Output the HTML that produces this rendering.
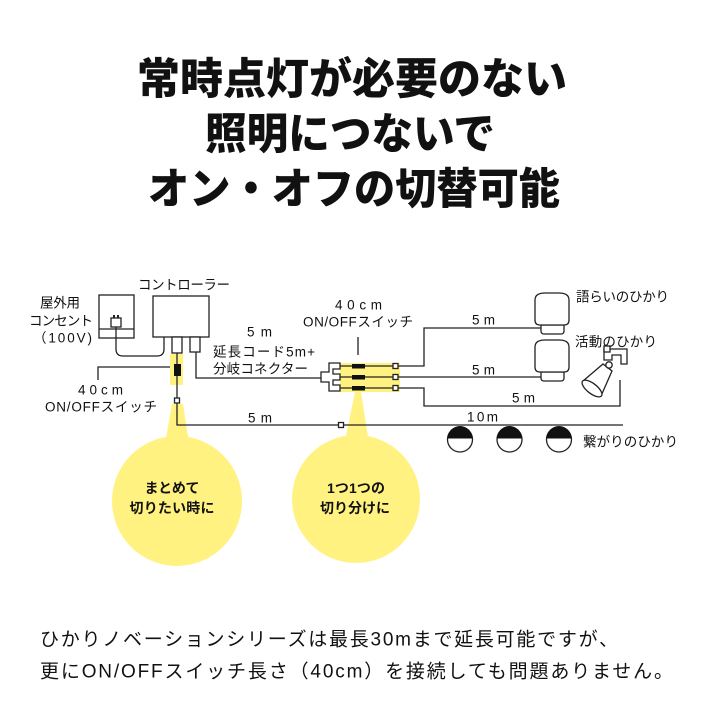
<!DOCTYPE html>
<html><head><meta charset="utf-8"><style>
html,body{margin:0;padding:0;background:#fff;}
svg{display:block;}
text{font-family:"Liberation Sans","Noto Sans CJK JP",sans-serif;fill:#111;dominant-baseline:central;}
.t{font-size:43px;font-weight:900;}
.s{font-size:13.5px;}
.b{font-size:14px;font-weight:700;}
.f{font-size:19px;}
.ln{stroke:#222;stroke-width:1.3;fill:none;}
.bx{stroke:#222;stroke-width:1.3;fill:#fff;}
</style></head><body>
<svg width="720" height="720" viewBox="0 0 720 720" xmlns="http://www.w3.org/2000/svg">
<rect width="720" height="720" fill="#fff"/>

<!-- Title -->
<text class="t" x="137" y="80" textLength="430" lengthAdjust="spacingAndGlyphs">常時点灯が必要のない</text>
<text class="t" x="205" y="135" textLength="290" lengthAdjust="spacingAndGlyphs">照明につないで</text>
<text class="t" x="148" y="190" textLength="412" lengthAdjust="spacingAndGlyphs">オン・オフの切替可能</text>

<!-- Yellow bubbles -->
<polygon points="172,404 183,404 190,450 164,450" fill="#fff280"/>
<circle cx="177" cy="501" r="65" fill="#fff280"/>
<polygon points="355,392 361,392 370,450 343,450" fill="#fff280"/>
<circle cx="356" cy="499" r="64" fill="#fff280"/>
<text class="b" x="172" y="488" text-anchor="middle" textLength="55">まとめて</text>
<text class="b" x="172" y="508" text-anchor="middle" textLength="85">切りたい時に</text>
<text class="b" x="356" y="488" text-anchor="middle" textLength="58">1つ1つの</text>
<text class="b" x="355" y="508" text-anchor="middle" textLength="70">切り分けに</text>

<!-- yellow highlights -->
<rect x="170" y="354" width="13" height="31" fill="#fff280"/>
<rect x="340" y="363" width="60" height="29" fill="#fff280"/>

<!-- Outlet -->
<rect class="bx" x="99" y="295" width="35" height="43"/>
<line class="ln" x1="99" y1="329" x2="134" y2="329"/>
<rect class="bx" x="111" y="318" width="10" height="9"/>
<rect x="113" y="315" width="2" height="3" fill="#222"/>
<rect x="117" y="315" width="2" height="3" fill="#222"/>
<path class="ln" d="M116 327 V349 Q116 356 123 356 H157 Q164 356 164 349 V337"/>

<!-- Controller -->
<rect class="bx" x="153" y="296" width="56" height="41"/>
<rect class="bx" x="172" y="337" width="10" height="16"/>
<rect class="bx" x="190" y="337" width="10" height="15"/>

<!-- left switch line -->
<line class="ln" x1="177" y1="353" x2="177" y2="398"/>
<rect x="174" y="364" width="7" height="12" fill="#111"/>
<path class="ln" d="M177 403 V425 H338"/>
<line class="ln" x1="344" y1="425" x2="623" y2="425"/>
<rect class="bx" x="174.5" y="398" width="5" height="5" stroke-width="1.1"/>
<rect class="bx" x="338.5" y="422.5" width="5" height="5" stroke-width="1.1"/>
<path class="ln" d="M170 367 H98 V380"/>

<!-- right plug line to connector -->
<path class="ln" d="M196 352 V378 H321"/>

<!-- connector -->
<path class="bx" d="M340 363 H329 V372 H321 V382 H329 V391 H340 V385 H333 V380 H340 V374 H333 V369 H340 Z"/>
<line class="ln" x1="340" y1="366" x2="393" y2="366"/>
<line class="ln" x1="340" y1="377" x2="393" y2="377"/>
<line class="ln" x1="340" y1="388" x2="393" y2="388"/>
<rect x="352" y="364" width="13" height="4.5" fill="#111"/>
<rect x="352" y="375" width="13" height="4.5" fill="#111"/>
<rect x="352" y="386" width="13" height="4.5" fill="#111"/>
<rect class="bx" x="393" y="363.5" width="5" height="5" stroke-width="1.1"/>
<rect class="bx" x="393" y="374.5" width="5" height="5" stroke-width="1.1"/>
<rect class="bx" x="393" y="385.5" width="5" height="5" stroke-width="1.1"/>
<line class="ln" x1="358" y1="337" x2="358" y2="355"/>

<!-- branch lines -->
<path class="ln" d="M398 366 H424 V328 H541"/>
<path class="ln" d="M398 377 H541"/>
<path class="ln" d="M398 388 H424 V406 H620 V380"/>

<!-- Lamp 1 -->
<path class="bx" d="M541 325 H564 V331 Q564 334 561 334 H544 Q541 334 541 331 Z"/>
<path class="bx" d="M535 300 Q535 293 545 293 H559 Q569 293 569 300 V320 Q569 325 564 325 H540 Q535 325 535 320 Z"/>
<!-- Lamp 2 -->
<path class="bx" d="M541 372 H564 V378 Q564 381 561 381 H544 Q541 381 541 378 Z"/>
<path class="bx" d="M535 347 Q535 340 545 340 H559 Q569 340 569 347 V367 Q569 372 564 372 H540 Q535 372 535 367 Z"/>

<!-- Spotlight -->
<path class="bx" d="M604 349 H627 V364 H621 V355 H612 V360 H604 Z"/>
<rect class="bx" x="604" y="346" width="6" height="6"/>
<path class="bx" d="M583 381 L603 364 L612 371 L601 396 Z"/>
<ellipse class="bx" cx="592" cy="388.5" rx="12" ry="5" transform="rotate(38 592 388.5)"/>
<circle class="bx" cx="609" cy="365" r="3.2"/>

<!-- Bottom lamps -->
<g>
<circle cx="460" cy="439.5" r="12.5" fill="#fff" stroke="#222" stroke-width="1.3"/>
<path d="M447.5 438.5 A12.5 12.5 0 0 1 472.5 438.5 Z" fill="#111"/>
<circle cx="509.5" cy="439.5" r="12.5" fill="#fff" stroke="#222" stroke-width="1.3"/>
<path d="M497 438.5 A12.5 12.5 0 0 1 522 438.5 Z" fill="#111"/>
<circle cx="559" cy="439.5" r="12.5" fill="#fff" stroke="#222" stroke-width="1.3"/>
<path d="M546.5 438.5 A12.5 12.5 0 0 1 571.5 438.5 Z" fill="#111"/>
</g>

<!-- labels -->
<text class="s" x="40" y="303" textLength="40">屋外用</text>
<text class="s" x="29" y="321" textLength="64">コンセント</text>
<text class="s" x="33" y="338" textLength="59">（100V)</text>
<text class="s" x="138" y="285" textLength="92">コントローラー</text>
<text class="s" x="247" y="332" textLength="25">5m</text>
<text class="s" x="213" y="352" textLength="102">延長コード5m+</text>
<text class="s" x="213" y="369" textLength="95">分岐コネクター</text>
<text class="s" x="335" y="305" textLength="47">40cm</text>
<text class="s" x="303" y="322" textLength="110">ON/OFFスイッチ</text>
<text class="s" x="78" y="390" textLength="45">40cm</text>
<text class="s" x="45" y="407" textLength="112">ON/OFFスイッチ</text>
<text class="s" x="248" y="418" textLength="24">5m</text>
<text class="s" x="472" y="320" textLength="23">5m</text>
<text class="s" x="472" y="370" textLength="23">5m</text>
<text class="s" x="512" y="398" textLength="23">5m</text>
<text class="s" x="467" y="417" textLength="31">10m</text>
<text class="s" x="576" y="297" textLength="93">語らいのひかり</text>
<text class="s" x="575" y="342" textLength="82">活動のひかり</text>
<text class="s" x="583" y="442" textLength="95">繋がりのひかり</text>

<!-- bottom text -->
<text class="f" x="40" y="640" textLength="578">ひかりノベーションシリーズは最長30mまで延長可能ですが、</text>
<text class="f" x="40" y="672" textLength="633">更にON/OFFスイッチ長さ（40cm）を接続しても問題ありません。</text>
</svg>
</body></html>
